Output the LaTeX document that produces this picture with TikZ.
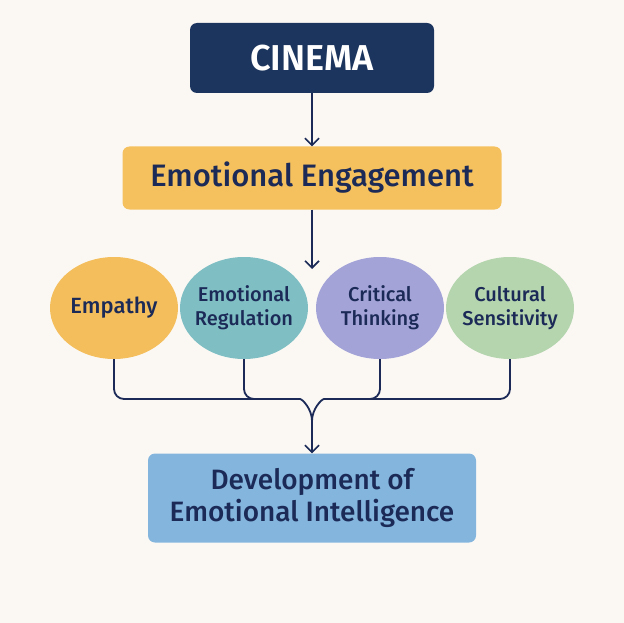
\documentclass[tikz,border=0pt]{standalone}
\usepackage{fontspec}
\setmainfont{Fira Sans}[UprightFont=* Medium, BoldFont=* SemiBold]
\usepackage{xcolor}
\usetikzlibrary{shapes.geometric,arrows.meta}

\definecolor{bgcream}{HTML}{FBF8F4}
\definecolor{navy}{HTML}{1C355E}
\definecolor{inkblue}{HTML}{1B2A57}
\definecolor{engyellow}{HTML}{F5C15E}
\definecolor{empyellow}{HTML}{F4BE5C}
\definecolor{regteal}{HTML}{7FBFC4}
\definecolor{critlilac}{HTML}{A3A3D8}
\definecolor{cultgreen}{HTML}{B5D5AE}
\definecolor{devblue}{HTML}{84B5DD}

\tikzset{
  box/.style={rounded corners=7pt, text=inkblue, align=center},
  skill/.style={ellipse, minimum width=128pt, minimum height=102pt, inner xsep=-20pt, inner ysep=-10pt,
    text=inkblue, align=center, font=\fontsize{20}{24}\selectfont},
  link/.style={draw=inkblue, line width=1.8pt},
  arrow/.style={link, -{Straight Barb[length=7pt,width=14pt,line width=1.6pt]}}
}

\begin{document}
\begin{tikzpicture}[x=1pt,y=-1pt]
		\fill[bgcream] (0,0) rectangle (624,623);
		\useasboundingbox (0,0) rectangle (624,623);
		\node[box, fill=navy, text=white, minimum width=244pt, minimum height=70pt,
		  font=\fontsize{36}{40}\selectfont\bfseries] (cinema) at (312,58) {CINEMA};
		\node[box, fill=engyellow, minimum width=379pt, minimum height=63pt,
		  font=\fontsize{31}{35}\selectfont] (engage) at (312,178) {Emotional Engagement};
		\node[skill, fill=empyellow, font=\fontsize{22}{26}\selectfont] (empathy) at (114,308) {Empathy};
		\node[skill, fill=regteal] (regulation) at (244,308) {Emotional\\Regulation};
		\node[skill, fill=critlilac] (critical) at (380,308) {Critical\\Thinking};
		\node[skill, fill=cultgreen] (cultural) at (510,308) {Cultural\\Sensitivity};
		\node[box, fill=devblue, minimum width=328pt, minimum height=89pt,
		  font=\fontsize{28}{32}\selectfont] (develop) at (312,498) {Development of\\Emotional Intelligence};
		\coordinate (split) at (312,269);
		\coordinate (bus) at (312,399);
		\coordinate (join) at (312,421);
		\draw[arrow] (cinema) -- (engage);
		\draw[arrow] (engage) -- (split);
		\draw[link, rounded corners=10pt] (empathy.south) |- ([xshift=-22pt]bus) to[out=0,in=90] (join);
		\draw[link, rounded corners=10pt] (regulation.south) |- ([xshift=-22pt]bus);
		\draw[link, rounded corners=10pt] (cultural.south) |- ([xshift=22pt]bus) to[out=180,in=90] (join);
		\draw[link, rounded corners=10pt] (critical.south) |- ([xshift=22pt]bus);
		\draw[arrow] (join) -- (develop);
	\end{tikzpicture}
\end{document}
